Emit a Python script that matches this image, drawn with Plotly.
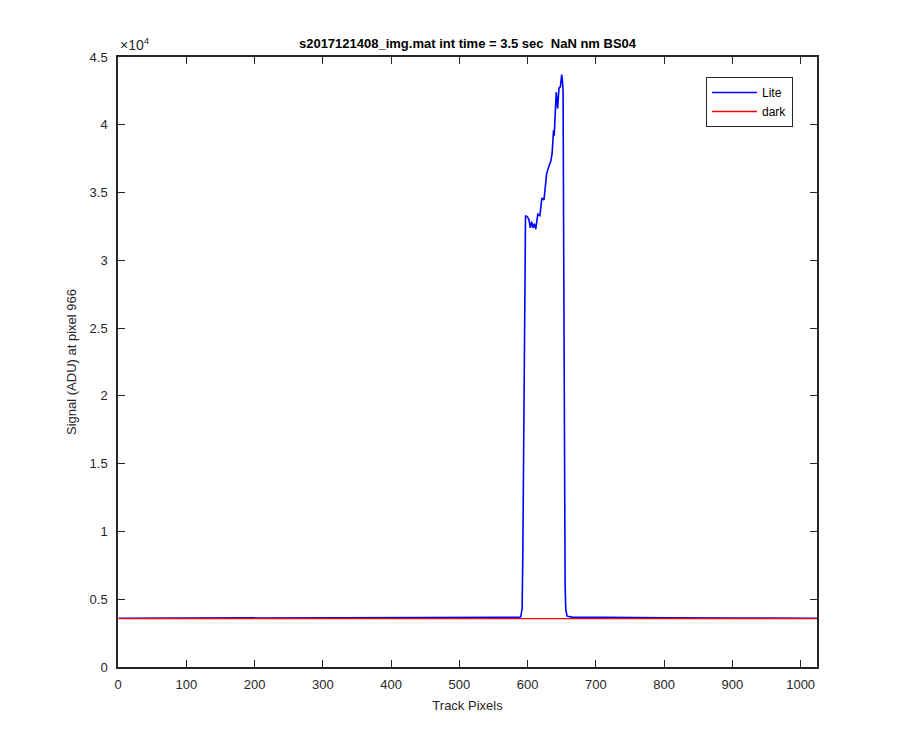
import plotly.graph_objects as go

# Lite signal (track pixel, ADU)
lite_x = [1, 100, 200, 300, 400, 500, 550, 585, 589, 590, 592, 593, 594, 595, 596, 597,
          600, 602, 604, 606, 608, 610, 612, 615, 618, 621, 624, 626, 628, 631, 634,
          636, 637, 638, 639, 640, 642, 644, 646, 648, 650, 651, 652, 653, 654, 655,
          656, 658, 665, 700, 800, 900, 1024]
lite_y = [3600, 3605, 3610, 3615, 3620, 3630, 3640, 3650, 3660, 3700, 4300, 8000, 16000, 26000, 32000, 33300,
          33200, 33000, 32400, 32850, 32400, 32700, 32300, 33400, 33300, 34600, 34450, 35300, 36400, 36900, 37300,
          37900, 38900, 39600, 39200, 40200, 42400, 41200, 42700, 42800, 43700, 43300, 42500, 30000, 14000, 6000,
          4200, 3750, 3680, 3660, 3630, 3610, 3600]

# dark signal
dark_x = [1, 256, 512, 768, 1024]
dark_y = [3570, 3570, 3570, 3570, 3570]

y_tick_vals = [0, 5000, 10000, 15000, 20000, 25000, 30000, 35000, 40000, 45000]
y_tick_text = ["0", "0.5", "1", "1.5", "2", "2.5", "3", "3.5", "4", "4.5"]
x_tick_vals = [0, 100, 200, 300, 400, 500, 600, 700, 800, 900, 1000]

axis_color = "#262626"
font_family = "Liberation Sans, Arial, sans-serif"

OFF = 8  # page offset compensation
L, R, T, B = 118 - OFF, 817 - OFF, 57 - OFF, 667 - OFF

fig = go.Figure()
fig.add_trace(go.Scatter(x=lite_x, y=lite_y, mode="lines", name="Lite",
                         line=dict(color="#0000FF", width=1.6)))
fig.add_trace(go.Scatter(x=dark_x, y=dark_y, mode="lines", name="dark",
                         line=dict(color="#FF0000", width=1.4)))

fig.update_layout(
    width=900, height=750,
    paper_bgcolor="white", plot_bgcolor="white",
    margin=dict(l=L, r=900 - R, t=T, b=750 - B, autoexpand=False),
    font=dict(family=font_family, size=13, color=axis_color),
    showlegend=True,
    legend=dict(x=(793 - OFF - L) / (R - L), y=(B - (77 - OFF)) / (B - T), xanchor="right", yanchor="top",
                bordercolor=axis_color, borderwidth=1, bgcolor="white",
                font=dict(size=12, color="black"), itemwidth=45,
                tracegroupgap=0),
    xaxis=dict(range=[0, 1024], automargin=False,
               tickvals=x_tick_vals, ticks="inside", ticklen=7, tickwidth=1,
               tickcolor=axis_color, showline=True, linecolor=axis_color, linewidth=1.5,
               mirror="ticks", showgrid=False, zeroline=False, ticklabelstandoff=5,
               title=dict(text="Track Pixels", font=dict(size=13, color=axis_color), standoff=10),
               tickfont=dict(size=13, color=axis_color)),
    yaxis=dict(range=[0, 45000], automargin=False,
               tickvals=y_tick_vals, ticktext=y_tick_text, ticks="inside", ticklen=7, tickwidth=1,
               tickcolor=axis_color, showline=True, linecolor=axis_color, linewidth=1.5,
               mirror="ticks", showgrid=False, zeroline=False, ticklabelstandoff=6,
               title=dict(text="Signal (ADU) at pixel 966", font=dict(size=13, color=axis_color), standoff=10),
               tickfont=dict(size=13, color=axis_color)),
    title=dict(text="<b>s2017121408_img.mat int time = 3.5 sec  NaN nm BS04</b>",
               x=(467.5 - OFF) / 900, xanchor="center", xref="container", y=1 - (43 - OFF) / 750, yanchor="middle",
               font=dict(size=13, color="black"), automargin=False),
    annotations=[dict(text="×10<sup>4</sup>", xref="paper", yref="paper",
                      x=0, y=1, xanchor="left", yanchor="bottom", yshift=2,
                      showarrow=False, font=dict(size=14, color=axis_color))],
)

fig.write_html("out.html")
